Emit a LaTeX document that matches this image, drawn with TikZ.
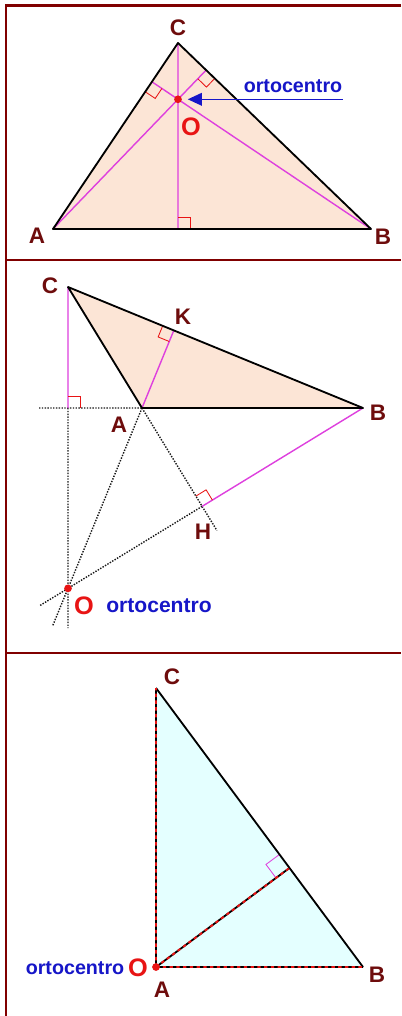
\documentclass[tikz,border=0pt]{standalone}
\usepackage{fontspec}
\setmainfont{Liberation Sans}
\usetikzlibrary{calc,arrows.meta}

\definecolor{framered}{RGB}{128,0,0}
\definecolor{lbl}{RGB}{110,12,12}
\definecolor{alt}{RGB}{222,64,222}
\definecolor{peach}{RGB}{252,229,214}
\definecolor{ice}{RGB}{228,255,255}
\definecolor{oblue}{RGB}{22,22,200}
\definecolor{ored}{RGB}{232,20,20}

% right angle mark at foot #2, legs towards #3 and #4
\newcommand{\perpsize}{0.3cm}
\newcommand{\perpbox}[4][ored]{%
  \coordinate (u) at ($(#2)!\perpsize!(#3)$);
  \coordinate (v) at ($(#2)!\perpsize!(#4)$);
  \draw[#1, line width=0.6pt] (u) -- ($(u)+(v)-(#2)$) -- (v);}

\tikzset{
  side/.style={black, line width=1.3pt, line join=round},
  height/.style={alt, line width=1pt},
  guide/.style={black!90, densely dotted, line width=1pt},
  reddash/.style={ored, line width=1.4pt, dash pattern=on 2.4pt off 2.4pt},
  vlabel/.style={text=lbl, font=\bfseries\fontsize{16}{16}\selectfont, inner sep=0pt},
  olabel/.style={text=ored, font=\bfseries\fontsize{18}{18}\selectfont, inner sep=0pt},
  ortlabel/.style={text=oblue, font=\bfseries\fontsize{14}{14}\selectfont, inner sep=0pt},
  odot/.style={circle, fill=ored, inner sep=0pt, minimum size=5.5pt},
  pointer/.style={oblue, line width=1pt, -{Triangle[length=10pt,width=9pt]}}
}

\begin{document}
\begin{tikzpicture}[x=0.025cm, y=-0.025cm]
  \useasboundingbox (0,0) rectangle (401,1016);
  \fill[white] (0,0) rectangle (401,1016);

  % acute triangle
  \coordinate (A1) at (53,229);
  \coordinate (B1) at (371,229);
  \coordinate (C1) at (178,43);
  \coordinate (Fa1) at ($(B1)!(A1)!(C1)$);
  \coordinate (Fb1) at ($(A1)!(B1)!(C1)$);
  \coordinate (Fc1) at ($(A1)!(C1)!(B1)$);
  \coordinate (O1) at (intersection of A1--Fa1 and C1--Fc1);
  \fill[peach] (A1) -- (B1) -- (C1) -- cycle;
  \draw[height] (A1) -- (Fa1) (B1) -- (Fb1) (C1) -- (Fc1);
  \perpbox{Fa1}{A1}{B1}
  \perpbox{Fb1}{B1}{A1}
  \perpbox{Fc1}{C1}{B1}
  \draw[side] (A1) -- (B1) -- (C1) -- cycle;
  \node[odot] (o1) at (O1) {};
  \node[vlabel] (a1) at (37,236) {A};
  \node[vlabel] (b1) at (383,237) {B};
  \node[vlabel] (c1) at (178,28) {C};
  \node[olabel] (ol1) at ($(O1)+(13,27)$) {O};
  \coordinate (tail1) at ($(O1)+(165,0)$);
  \node[ortlabel] (ort1) at ($(O1)+(115,-13)$) {ortocentro};
  \draw[pointer, shorten >=4pt] (tail1) -- (o1);

  % obtuse triangle
  \coordinate (A2) at (142,408);
  \coordinate (B2) at (363,408);
  \coordinate (C2) at (68,287);
  \coordinate (K) at ($(C2)!(A2)!(B2)$);
  \coordinate (H) at ($(C2)!(B2)!(A2)$);
  \coordinate (F2) at ($(A2)!(C2)!(B2)$);
  \coordinate (O2) at (intersection of C2--F2 and B2--H);
  \coordinate (w2) at (39,408);
  \coordinate (s2) at ($(F2)!1.22!(O2)$);
  \coordinate (t2) at ($(A2)!1.21!(O2)$);
  \coordinate (h2) at ($(C2)!1.11!(H)$);
  \coordinate (r2) at ($(H)!1.21!(O2)$);
  \fill[peach] (A2) -- (B2) -- (C2) -- cycle;
  \draw[guide] (w2) -- (A2) (F2) -- (s2) (A2) -- (t2) (A2) -- (h2) (H) -- (r2);
  \draw[height] (C2) -- (F2) (A2) -- (K) (B2) -- (H);
  \perpbox{F2}{C2}{A2}
  \perpbox{K}{A2}{C2}
  \perpbox{H}{B2}{A2}
  \draw[side] (A2) -- (B2) -- (C2) -- cycle;
  \node[odot] (o2) at (O2) {};
  \node[vlabel] (a2) at (119,425) {A};
  \node[vlabel] (b2) at (378,413) {B};
  \node[vlabel] (c2) at (50,286) {C};
  \node[vlabel] (k2) at (183,317) {K};
  \node[vlabel] (h2l) at (203,532) {H};
  \node[olabel] (ol2) at ($(O2)+(16,17)$) {O};
  \node[ortlabel, font=\bfseries\fontsize{15}{15}\selectfont] (ort2) at ($(O2)+(91,17)$) {ortocentro};

  % right triangle
  \coordinate (A3) at (156,967);
  \coordinate (B3) at (363,967);
  \coordinate (C3) at (156,688);
  \coordinate (F3) at ($(C3)!(A3)!(B3)$);
  \fill[ice] (A3) -- (B3) -- (C3) -- cycle;
  \renewcommand{\perpsize}{0.42cm}
  \perpbox[alt]{F3}{A3}{C3}
  \draw[side] (C3) -- (B3);
  \draw[side] (A3) -- (B3) (A3) -- (C3) (A3) -- (F3);
  \draw[reddash] (A3) -- (B3) (A3) -- (C3) (A3) -- (F3);
  \node[odot] (o3) at (A3) {};
  \node[vlabel] (a3) at (162,990) {A};
  \node[vlabel] (b3) at (377,975) {B};
  \node[vlabel] (c3) at (172,677) {C};
  \node[olabel] (ol3) at (138,968) {O};
  \node[ortlabel] (ort3) at (75,968) {ortocentro};

  % frame
  \draw[framered, line width=1.6pt] (401,5.5) -- (6,5.5) -- (6,1016);
  \draw[framered, line width=1.2pt] (6,260) -- (401,260) (6,653) -- (401,653);
\end{tikzpicture}
\end{document}
